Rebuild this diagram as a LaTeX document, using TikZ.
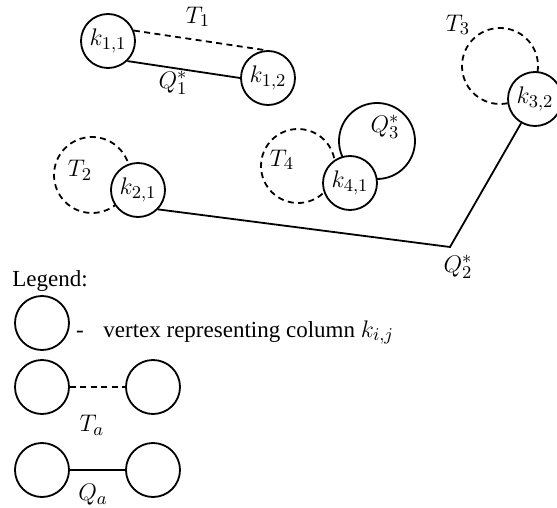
\documentclass[tikz,border=0pt]{standalone}
\usepackage{fontspec}
\setmainfont{Liberation Serif}
\usepackage{tikz}
\usetikzlibrary{positioning}

\begin{document}
\begin{tikzpicture}[x=0.5pt,y=-0.5pt,
  vtx/.style={circle,draw,line width=0.9pt,fill=white,minimum size=27pt,inner sep=0pt,font=\fontsize{12.5}{14}\selectfont},
  tedge/.style={line width=0.9pt,dash pattern=on 3pt off 2.2pt},
  qedge/.style={line width=0.9pt},
  lbl/.style={inner sep=0pt,font=\fontsize{12.5}{14}\selectfont},
  txt/.style={inner sep=0pt,font=\fontsize{11.5}{14}\selectfont}]
\useasboundingbox (0,0) rectangle (557,508);
% ---- loops first, the vertices are filled and sit on top ----
\draw[tedge] (92,175) circle (38);
\draw[tedge] (298,166) circle (37);
\draw[tedge] (500,66) circle (38);
\draw[qedge] (377,141) circle (38);
% ---- vertices ----
\node[vtx] (k11) at (108,41) {$k_{1,1}$};
\node[vtx] (k12) at (268,78) {$k_{1,2}$};
\node[vtx] (k21) at (138,190) {$k_{2,1}$};
\node[vtx] (k41) at (350,183) {$k_{4,1}$};
\node[vtx] (k32) at (535,99) {$k_{3,2}$};
\coordinate (bend) at (450,247);
% ---- edges ----
\draw[tedge] (k11.22) -- (k12.95);
\draw[qedge] (k11.-46) -- (k12.west);
\draw[qedge] (k21.-44) -- (bend) -- (k32);
% labels
\node[lbl] (t1) at (198,17) {$T_1$};
\node[lbl] (q1) at (173,83) {$Q_1^*$};
\node[lbl] (t2) at (80,170) {$T_2$};
\node[lbl] (t4) at (282,160) {$T_4$};
\node[lbl] (q3) at (385,127) {$Q_3^*$};
\node[lbl] (t3) at (458,25) {$T_3$};
\node[lbl] (q2) at (458,267) {$Q_2^*$};
% ---- legend ----
\node[txt,anchor=west] (leg) at (12,281) {Legend:};
\node[vtx] (l1) at (42,323) {};
\node[txt,anchor=base] (dash) at (80,337) {-};
\node[txt,anchor=base west] (ltext) at (103,337) {vertex representing column \fontsize{12.5}{14}\selectfont$k_{i,j}$};
\node[vtx] (a1) at (42,387) {};
\node[vtx] (a2) at (153,387) {};
\draw[tedge] (a1) -- (a2);
\node[lbl] (ta) at (92,425) {$T_a$};
\node[vtx] (b1) at (42,470) {};
\node[vtx] (b2) at (153,470) {};
\draw[qedge] (b1) -- (b2);
\node[lbl] (qa) at (93,495) {$Q_a$};
\end{tikzpicture}
\end{document}
